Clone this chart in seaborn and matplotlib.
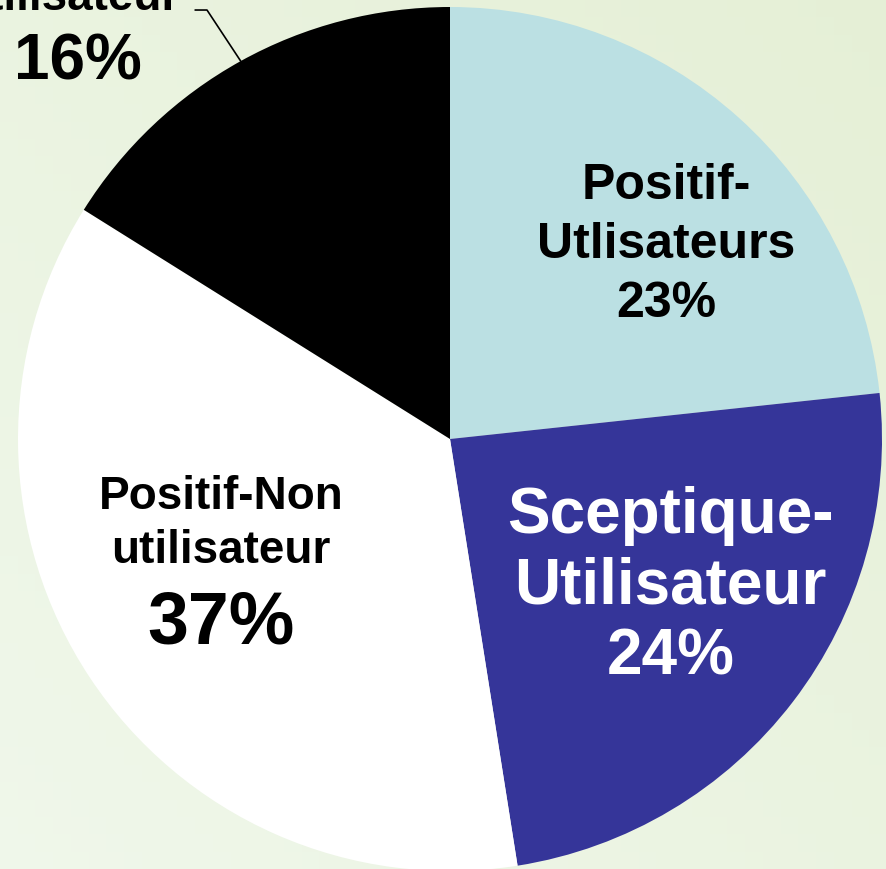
import numpy as np
import matplotlib
matplotlib.use("Agg")
import matplotlib.pyplot as plt
import seaborn as sns

sns.set_style("white")
plt.rcParams['font.family'] = ['Liberation Sans', 'DejaVu Sans']

categories = ['Positif-\nUtlisateurs', 'Sceptique-\nUtilisateur',
              'Positif-Non\nutilisateur', 'Sceptique-Non\nutilisateur']
# slice sizes as measured from the wedges, labels as printed on the chart
values = [23.3, 24.2, 36.4, 16.1]
pct_labels = ['23%', '24%', '37%', '16%']
colors = ['#BBE0E3', '#353599', '#FFFFFF', '#000000']

fig = plt.figure(figsize=(8.87, 8.69), dpi=100)
ax = fig.add_axes([0, 0, 1, 1])

# light green background with a slight gradient
xl = (-450 / 432, 437 / 432)
yl = (-430 / 432, 439 / 432)
gx, gy = np.meshgrid(np.linspace(0, 1, 50), np.linspace(0, 1, 50))
g = (gx + gy) / 2
c0 = np.array([0.94, 0.97, 0.92])
c1 = np.array([0.90, 0.94, 0.84])
img = c0[None, None, :] * (1 - g[..., None]) + c1[None, None, :] * g[..., None]
ax.imshow(img, extent=[xl[0], xl[1], yl[1], yl[0]], origin='upper',
          aspect='auto', zorder=0)

wedges, _ = ax.pie(values, colors=colors, startangle=90, counterclock=False,
                   radius=1.0, wedgeprops=dict(linewidth=0))
for w in wedges:
    w.set_zorder(2)

# slice 1 and 2: one block of text each
ax.text(0.50, 0.45, f"{categories[0]}\n{pct_labels[0]}", ha='center', va='center',
        fontsize=36, fontweight='bold', color='black', linespacing=1.36, zorder=5)
ax.text(0.51, -0.342, f"{categories[1]}\n{pct_labels[1]}", ha='center', va='center',
        fontsize=46, fontweight='bold', color='white', linespacing=1.22, zorder=5)

# slice 3: smaller name, large percentage
ax.text(-0.53, -0.196, categories[2], ha='center', va='center',
        fontsize=33, fontweight='bold', color='black', linespacing=1.3, zorder=5)
ax.text(-0.53, -0.428, pct_labels[2], ha='center', va='center',
        fontsize=53, fontweight='bold', color='black', zorder=5)

# outside label for the black slice with leader line
w = wedges[3]
ang = np.deg2rad((w.theta1 + w.theta2) / 2)
px, py = np.cos(ang), np.sin(ang)
ax.plot([px, -0.5625, -0.59], [py, 0.993, 0.993], color='black', lw=1.2, zorder=4)
ax.text(-0.861, 0.871, pct_labels[3], ha='center', va='center',
        fontsize=46, fontweight='bold', color='black', zorder=5)
name_lines = categories[3].split('\n')
ax.text(-0.88, 0.993, name_lines[1], ha='center', va='baseline',
        fontsize=33, fontweight='bold', color='black', zorder=5)
ax.text(-0.88, 0.993 + 54 / 432, name_lines[0], ha='center', va='baseline',
        fontsize=33, fontweight='bold', color='black', zorder=5)

ax.set_xlim(*xl)
ax.set_ylim(*yl)
ax.set_aspect('equal')
ax.axis('off')
fig.savefig('out.png', dpi=100)
